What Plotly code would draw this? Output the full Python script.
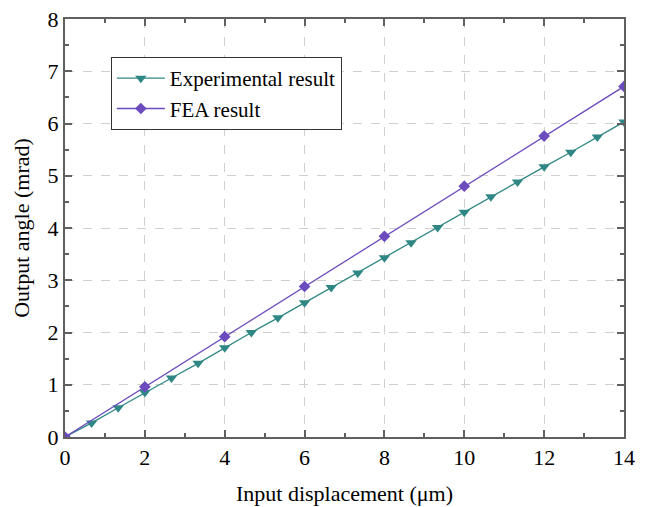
import plotly.graph_objects as go

exp_x = [0, 0.667, 1.333, 2, 2.667, 3.333, 4, 4.667, 5.333, 6, 6.667, 7.333,
         8, 8.667, 9.333, 10, 10.667, 11.333, 12, 12.667, 13.333, 14]
exp_y = [0, 0.27, 0.56, 0.85, 1.13, 1.41, 1.71, 2.0, 2.28, 2.57, 2.86, 3.14,
         3.43, 3.72, 4.01, 4.30, 4.60, 4.88, 5.17, 5.45, 5.74, 6.03]
fea_x = [0, 2, 4, 6, 8, 10, 12, 14]
fea_y = [0, 0.96, 1.92, 2.88, 3.84, 4.80, 5.76, 6.71]

teal = "#2e8784"
purple = "#6b4bbd"
font = "Liberation Serif"

fig = go.Figure()
fig.add_trace(go.Scatter(x=exp_x, y=exp_y, mode="lines+markers",
                         name="Experimental result",
                         line=dict(color=teal, width=1.3),
                         marker=dict(symbol="triangle-down", size=10, color=teal)))
fig.add_trace(go.Scatter(x=fea_x, y=fea_y, mode="lines+markers",
                         name="FEA result",
                         line=dict(color=purple, width=1.3),
                         marker=dict(symbol="diamond", size=9, color=purple)))

axis_common = dict(
    showline=True, linecolor="#606060", linewidth=2, mirror="allticks",
    ticks="inside", ticklen=7, tickwidth=2, tickcolor="#606060",
    showgrid=True, gridcolor="#d0d0d0", griddash="dash", gridwidth=1,
    zeroline=False, automargin=False,
    tickfont=dict(family=font, size=22, color="black"),
    title_font=dict(family=font, size=22, color="black"),
)

fig.update_xaxes(range=[0, 14], dtick=2, tick0=0,
                 minor=dict(dtick=1, ticks="inside", ticklen=4, tickwidth=2,
                            tickcolor="#606060", showgrid=False),
                 title_text="Input displacement (μm)", title_standoff=16,
                 **axis_common)
fig.update_yaxes(range=[0, 8], dtick=1, tick0=0,
                 minor=dict(dtick=0.5, ticks="inside", ticklen=4, tickwidth=2,
                            tickcolor="#606060", showgrid=False),
                 title_text="Output angle (mrad)", title_standoff=12,
                 **axis_common)

fig.update_layout(
    width=646, height=507,
    margin=dict(l=65, r=22, t=19, b=70),
    plot_bgcolor="white", paper_bgcolor="white",
    font=dict(family=font, size=21, color="black"),
    showlegend=True,
    legend=dict(x=0.082, y=0.909, xanchor="left", yanchor="top",
                bordercolor="#333333", borderwidth=1, bgcolor="white",
                font=dict(family=font, size=21, color="black"),
                tracegroupgap=0, itemwidth=48),
)

fig.write_html("out.html")
